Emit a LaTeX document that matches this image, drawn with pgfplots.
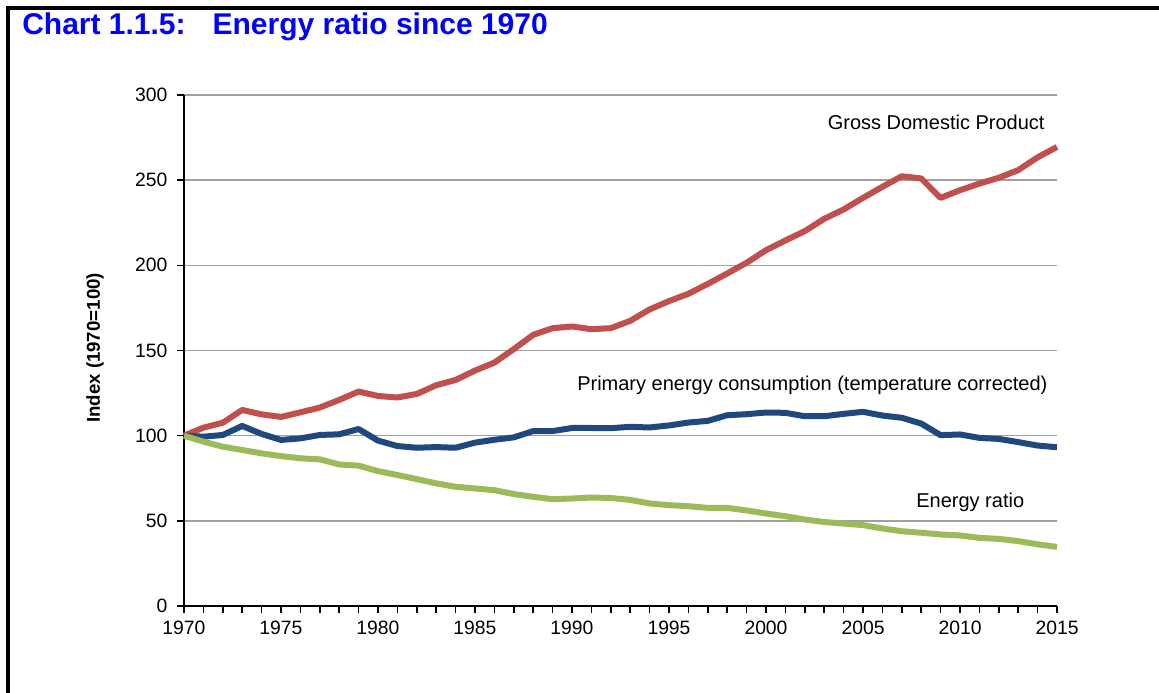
\documentclass[border=0pt]{standalone}
\usepackage{fontspec}
\setmainfont{Liberation Sans}
\usepackage{pgfplots}
\pgfplotsset{compat=1.18}
\definecolor{gdpred}{HTML}{C0504D}
\definecolor{pecblue}{HTML}{1F497D}
\definecolor{ergreen}{HTML}{9BBB59}
\definecolor{titleblue}{HTML}{0000FF}
\definecolor{gridgray}{HTML}{A0A0A0}
\begin{document}
\begin{tikzpicture}
\useasboundingbox (0pt,0pt) rectangle (869.25pt,519pt);
\draw[line width=2.4pt, line cap=rect] (6pt,0pt) -- (6pt,513pt) -- (870pt,513pt);
\node[anchor=base west, inner sep=0pt, text=titleblue, font=\fontsize{22.5}{26}\selectfont\bfseries] at (16.5pt,492.75pt) {Chart 1.1.5:\hspace{0.9em}Energy ratio since 1970};
\begin{axis}[
  at={(138pt,64.5pt)}, anchor=south west,
  scale only axis, width=654.75pt, height=383.25pt,
  xmin=1970, xmax=2015, ymin=0, ymax=300,
  axis x line*=bottom, axis y line*=left,
  axis line style={line width=2.2pt, black},
  xtick={1970,1975,...,2015}, minor x tick num=4,
  ytick={0,50,...,300},
  tick align=outside,
  major tick length=5pt, minor tick length=5pt,
  every tick/.style={black, line width=1.1pt},
  ymajorgrids, major grid style={gridgray, line width=1.1pt},
  /pgf/number format/1000 sep={},
  /pgf/number format/assume math mode=true,
  tick label style={font=\fontsize{14.5}{17}\selectfont},
  xticklabel style={yshift=-3pt},
  yticklabel style={xshift=-4pt},
  ylabel={Index (1970=100)},
  ylabel style={font=\fontsize{14}{16}\selectfont\bfseries, at={(axis description cs:-0.102,0.505)}, anchor=center},
  clip=false,
]
\addplot[gdpred, line width=4.5pt, line join=round] coordinates {
(1970,100) (1971,104.7) (1972,107.6) (1973,115.1) (1974,112.5) (1975,111.0)
(1976,113.7) (1977,116.5) (1978,121.0) (1979,125.9) (1980,123.3) (1981,122.4)
(1982,124.5) (1983,129.6) (1984,132.7) (1985,138.2) (1986,142.9) (1987,150.8)
(1988,159.2) (1989,163.1) (1990,164.1) (1991,162.5) (1992,163.1) (1993,167.4)
(1994,174.1) (1995,179.0) (1996,183.3) (1997,189.1) (1998,195.2) (1999,201.5)
(2000,208.9) (2001,214.6) (2002,220.1) (2003,227.3) (2004,232.8) (2005,239.6)
(2006,246.1) (2007,252.3) (2008,251.0) (2009,239.6) (2010,244.1) (2011,248.0)
(2012,251.4) (2013,255.9) (2014,263.4) (2015,269.5)
};
\addplot[pecblue, line width=4.5pt, line join=round] coordinates {
(1970,100) (1971,99.4) (1972,100.4) (1973,105.7) (1974,101.0) (1975,97.5)
(1976,98.4) (1977,100.4) (1978,100.8) (1979,103.9) (1980,97.1) (1981,93.9)
(1982,92.9) (1983,93.3) (1984,92.9) (1985,95.9) (1986,97.6) (1987,99.0)
(1988,102.7) (1989,102.7) (1990,104.5) (1991,104.5) (1992,104.4) (1993,105.2)
(1994,104.8) (1995,106.0) (1996,107.7) (1997,108.7) (1998,112.0) (1999,112.6)
(2000,113.6) (2001,113.4) (2002,111.4) (2003,111.4) (2004,112.8) (2005,114.0)
(2006,111.8) (2007,110.5) (2008,107.1) (2009,100.3) (2010,100.7) (2011,98.7)
(2012,98.1) (2013,96.2) (2014,94.2) (2015,93.2)
};
\addplot[ergreen, line width=4.5pt, line join=round] coordinates {
(1970,100) (1971,96.5) (1972,93.5) (1973,91.6) (1974,89.6) (1975,88.0)
(1976,86.7) (1977,86.1) (1978,83.1) (1979,82.4) (1980,79.2) (1981,76.9)
(1982,74.5) (1983,72.0) (1984,70.0) (1985,69.0) (1986,68.0) (1987,65.7)
(1988,64.1) (1989,62.7) (1990,63.1) (1991,63.7) (1992,63.4) (1993,62.3)
(1994,60.2) (1995,59.2) (1996,58.6) (1997,57.6) (1998,57.6) (1999,56.1)
(2000,54.3) (2001,52.7) (2002,50.8) (2003,49.3) (2004,48.4) (2005,47.5)
(2006,45.5) (2007,43.9) (2008,43.0) (2009,42.0) (2010,41.4) (2011,40.0)
(2012,39.4) (2013,38.1) (2014,36.2) (2015,34.7)
};
\node[anchor=east, font=\fontsize{15}{18}\selectfont] at (axis cs:2014.6,284.2) {Gross Domestic Product};
\node[anchor=east, font=\fontsize{15}{18}\selectfont] at (axis cs:2014.75,129.7) {Primary energy consumption (temperature corrected)};
\node[anchor=east, font=\fontsize{15}{18}\selectfont] at (axis cs:2013.55,61.0) {Energy ratio};
\end{axis}
\end{tikzpicture}
\end{document}
